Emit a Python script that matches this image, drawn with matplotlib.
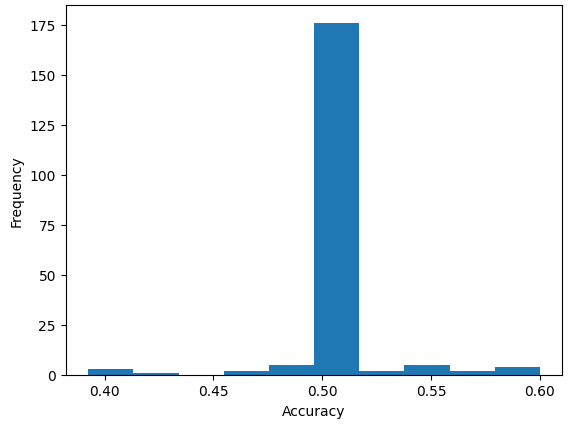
import matplotlib
matplotlib.use("Agg")
import matplotlib.pyplot as plt
import numpy as np

data_min = 0.3925
data_max = 0.600
counts = [3, 1, 0, 2, 5, 176, 2, 5, 2, 4]

edges = np.linspace(data_min, data_max, len(counts) + 1)
centers = (edges[:-1] + edges[1:]) / 2

fig, ax = plt.subplots(figsize=(5.71, 4.27), dpi=100)
ax.hist(centers, bins=edges, weights=counts, color="#1f77b4")
ax.set_xlabel("Accuracy")
ax.set_ylabel("Frequency")
fig.subplots_adjust(left=0.115, right=0.985, bottom=0.12, top=0.986)
fig.savefig("out.png", dpi=100)
